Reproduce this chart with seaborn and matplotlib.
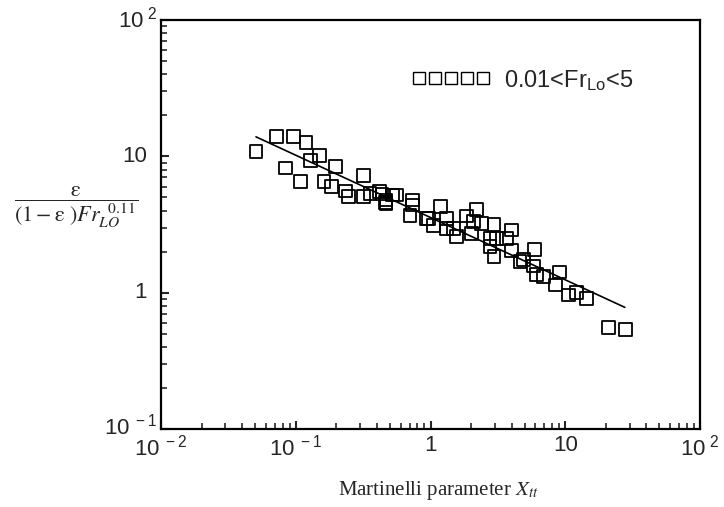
import numpy as np
import pandas as pd
import matplotlib
matplotlib.use("Agg")
import matplotlib.pyplot as plt
import seaborn as sns
from matplotlib.lines import Line2D

# ---- data ----
x_tt = [0.0507, 0.0723, 0.0966, 0.119, 0.151, 0.128, 0.084, 0.197, 0.109, 0.162,
        0.185, 0.317, 0.235, 0.248, 0.317, 0.356, 0.42, 0.468, 0.468, 0.525,
        0.56, 0.738, 0.738, 0.705, 0.964, 1.18, 1.05, 1.32, 1.32, 1.56,
        1.86, 2.2, 2.08, 2.4, 2.96, 2.02, 2.76, 3.09, 4.0, 3.68,
        2.76, 2.96, 4.0, 4.61, 5.9, 4.87, 5.8, 6.15, 6.9, 9.05,
        8.5, 10.5, 12.2, 14.3, 20.8, 27.9, 0.436, 0.461, 0.937, 1.48]
y_val = [10.8, 13.9, 13.9, 12.7, 10.2, 9.3, 8.2, 8.45, 6.5, 6.5,
         6.0, 7.2, 5.56, 5.06, 5.1, 5.36, 5.5, 4.52, 4.78, 5.2,
         5.2, 4.78, 4.4, 3.7, 3.5, 4.27, 3.13, 3.5, 2.97, 2.57,
         3.65, 4.08, 3.31, 3.22, 3.18, 2.72, 2.5, 2.5, 2.88, 2.5,
         2.17, 1.85, 2.05, 1.69, 2.08, 1.75, 1.57, 1.35, 1.31, 1.42,
         1.14, 0.96, 1.0, 0.91, 0.553, 0.537, 5.3, 4.6, 3.5, 2.97]
fit_x = [0.0507, 27.7]
fit_y = [13.9, 0.78]

x_ticks = [0.01, 0.1, 1, 10, 100]
x_tick_labels = [r"10$^{\ -2}$", r"10$^{\ -1}$", "1", "10", r"10$^{\ 2}$"]
y_ticks = [0.1, 1, 10, 100]
y_tick_labels = [r"10$^{\ -1}$", "1", "10", r"10$^{\ 2}$"]
legend_label = r"0.01<Fr$_{\rm Lo}$<5"

df = pd.DataFrame({"x": x_tt, "y": y_val})
fit = pd.DataFrame({"x": fit_x, "y": fit_y})

sns.set_style("ticks")
plt.rcParams["font.family"] = ["Liberation Sans", "DejaVu Sans"]
plt.rcParams["mathtext.fontset"] = "custom"
plt.rcParams["mathtext.rm"] = "Liberation Sans"
plt.rcParams["mathtext.it"] = "Liberation Sans:italic"

fig = plt.figure(figsize=(7.24, 5.07), dpi=100)
ax = fig.add_axes([161 / 724, 1 - 429 / 507, 539 / 724, 409 / 507])

sns.scatterplot(data=df, x="x", y="y", ax=ax, marker="s", s=85,
                facecolor="none", edgecolor="black", linewidth=1.3, zorder=3)
sns.lineplot(data=fit, x="x", y="y", ax=ax, color="black", linewidth=1.2, zorder=2)

ax.set_xscale("log")
ax.set_yscale("log")
ax.set_xlim(0.01, 100)
ax.set_ylim(0.1, 100)
ax.set_xlabel("")
ax.set_ylabel("")

for s in ax.spines.values():
    s.set_linewidth(1.6)
    s.set_color("black")

ax.set_xticks(x_ticks)
ax.set_yticks(y_ticks)
ax.set_xticklabels([])
ax.set_yticklabels([])
ax.xaxis.set_minor_locator(matplotlib.ticker.LogLocator(base=10, subs=np.arange(2, 10)))
ax.yaxis.set_minor_locator(matplotlib.ticker.LogLocator(base=10, subs=np.arange(2, 10)))
ax.xaxis.set_minor_formatter(matplotlib.ticker.NullFormatter())
ax.yaxis.set_minor_formatter(matplotlib.ticker.NullFormatter())
ax.tick_params(which="major", direction="in", length=6, width=1.5, top=False, right=False)
ax.tick_params(which="minor", direction="in", length=4, width=1.2, top=False, right=False)

# tick labels as text
for v, lab in zip(x_ticks, x_tick_labels):
    ax.annotate(lab, xy=(v, 0), xycoords=ax.get_xaxis_transform(),
                xytext=(0, -6), textcoords="offset pixels",
                ha="center", va="top", fontsize=16)
for v, lab in zip(y_ticks, y_tick_labels):
    off = -4 if "$" in lab else -14
    dy = 2 if v == 0.1 else 0
    ax.annotate(lab, xy=(0, v), xycoords=ax.get_yaxis_transform(),
                xytext=(off, dy), textcoords="offset pixels",
                ha="right", va="center", fontsize=16)

# legend
h = Line2D([], [], marker="s", markersize=8, markerfacecolor="none",
           markeredgecolor="black", markeredgewidth=1.0, linestyle="none")
ax.legend([h], [legend_label], numpoints=5, loc="center left",
          bbox_to_anchor=(0.466, 0.853), frameon=False, fontsize=17,
          handlelength=3.3, handletextpad=0.6, borderpad=0, borderaxespad=0)

# axis labels
fig.text(76 / 724, 1 - 207 / 507,
         r"$\dfrac{\mathrm{\varepsilon}}{(1-\mathrm{\varepsilon}\ )Fr_{LO}^{\ \ 0.11}}$",
         ha="center", va="center", fontsize=16, math_fontfamily="stix")
fig.text(438 / 724, 1 - 490 / 507, r"Martinelli parameter $X_{tt}$",
         ha="center", va="center", fontsize=15,
         family=["Liberation Serif", "DejaVu Serif"], math_fontfamily="stix")

fig.savefig("out.png", dpi=100)
